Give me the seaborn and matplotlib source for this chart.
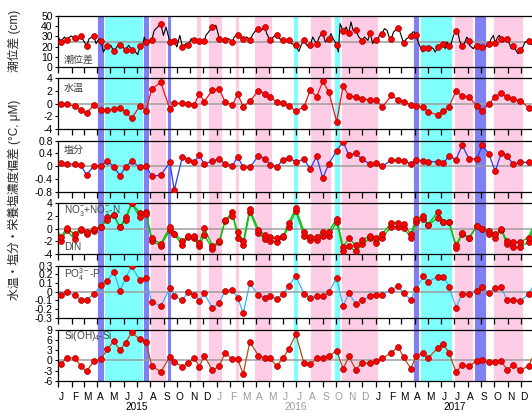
import numpy as np
import pandas as pd
import matplotlib
matplotlib.use("Agg")
import matplotlib.pyplot as plt
import matplotlib.dates as mdates
import matplotlib.transforms as mtransforms
from matplotlib.ticker import FuncFormatter
import seaborn as sns

sns.set_theme(style="white")
plt.rcParams["font.family"] = ["Liberation Sans", "Noto Sans CJK JP"]
plt.rcParams["mathtext.fontset"] = "custom"
plt.rcParams["mathtext.rm"] = "Liberation Sans"
plt.rcParams["mathtext.default"] = "regular"
plt.rcParams["axes.unicode_minus"] = False

# ---------------- data ----------------
BASE = "2015-01-01"
sample_day = [6, 19, 38, 52, 65, 82, 98, 113, 128, 142, 155, 169, 188, 202, 215, 236, 257, 267,
              286, 299, 313, 325, 336, 355, 371, 384, 401, 413, 426, 441, 461, 476, 488, 503, 518, 531,
              547, 566, 580, 595, 609, 623, 641, 656, 669, 685, 700, 718, 732, 746, 767, 783, 795, 812,
              824, 841, 851, 874, 887, 900, 916, 930, 946, 964, 976, 992, 1006, 1020, 1033, 1048, 1064, 1083]

tide_at_sample = [24.5, 26.8, 28.4, 30.4, 20.6, 30.4, 25.5, 20.3, 15.3, 22.0, 17.0, 17.0, 20.2, 24.5, 26.1,
                  42.5, 24.5, 25.2, 19.6, 21.2, 26.1, 25.5, 25.2, 39.2, 27.8, 26.8, 24.5, 31.7, 27.1, 26.1,
                  36.9, 39.2, 26.1, 31.7, 26.1, 26.1, 21.2, 26.8, 21.2, 22.2, 33.3, 27.8, 21.9, 35.3, 33.3,
                  35.9, 25.5, 33.7, 26.8, 32.7, 27.8, 38.2, 23.5, 30.1, 31.0, 19.0, 19.0, 19.6, 22.9, 20.3,
                  35.3, 20.6, 25.5, 20.3, 19.6, 22.2, 23.5, 27.8, 27.1, 20.3, 17.0, 25.2]

tide_extra_day = [-5, 2, 14, 29, 45, 60, 71, 87, 94, 104, 110, 121, 137, 162, 175, 183, 193, 198, 210, 221,
                  229, 242, 248, 262, 273, 280, 294, 306, 340, 363, 379, 392, 405, 419, 434, 449, 455, 467,
                  480, 495, 509, 524, 538, 554, 559, 572, 586, 601, 615, 628, 633, 645, 649, 663, 674, 679,
                  692, 705, 713, 724, 730, 736, 739, 751, 757, 762, 772, 776, 787, 792, 802, 816, 820, 830,
                  839, 849, 858, 864, 868, 879, 891, 895, 904, 910, 921, 925, 935, 941, 947, 956, 960, 970,
                  981, 987, 997, 1002, 1012, 1016, 1025, 1030, 1039, 1043, 1054, 1059, 1070, 1075, 1086, 1091]
tide_extra = [31.0, 27.8, 29.4, 30.4, 26.1, 24.5, 27.8, 22.9, 27.8, 14.7, 19.6, 21.2, 21.2, 21.2, 16.3, 12.1,
              17.9, 29.4, 26.1, 35.9, 39.2, 31.0, 39.2, 25.2, 19.6, 31.0, 22.9, 27.8, 31.0, 40.8, 25.2, 27.8,
              29.4, 29.4, 29.4, 32.7, 35.9, 35.9, 32.7, 29.4, 27.8, 26.1, 22.9, 15.3, 21.2, 21.2, 29.4, 29.4,
              24.5, 32.7, 27.8, 14.7, 42.5, 39.2, 44.1, 35.9, 29.4, 29.4, 26.1, 22.9, 27.8, 24.5, 31.0, 37.6,
              35.9, 29.4, 34.3, 35.9, 34.3, 27.8, 27.8, 34.3, 34.3, 22.9, 14.7, 17.9, 19.6, 17.9, 14.7, 21.2,
              17.9, 24.5, 21.2, 31.0, 32.7, 24.5, 22.9, 29.4, 21.2, 17.9, 21.2, 21.2, 17.9, 21.2, 27.8, 31.0,
              29.4, 31.0, 24.5, 27.8, 22.9, 17.9, 16.3, 13.0, 19.6, 24.5, 22.9, 21.9]

temp = [-0.1, -0.1, -0.37, -1.0, -1.5, -0.2, -1.0, -0.95, -0.9, -0.7, -1.26, -2.3, -0.37, -1.1, 2.26, 3.37,
        -0.9, 0.05, 0.05, -0.1, -0.2, 1.6, 0.3, 2.16, 2.26, 0.3, -0.26, 1.5, -0.47, 0.37, 2.05, 1.6, 1.1,
        0.26, 0.1, -0.37, -1.16, -0.5, 2.1, 1.1, 3.5, 1.84, -2.84, 2.8, 1.2, 1.1, 0.8, 0.55, 0.6, -0.58,
        1.3, 0.58, 0.26, -0.2, -0.37, -0.58, -1.26, -1.79, -1.21, -0.47, 2.0, 1.2, 1.1, -0.37, -1.1, -0.05,
        1.1, 1.63, 1.05, 0.68, 0.47, -0.63]

sal = [0.10, 0.08, 0.06, 0.04, -0.28, 0.02, 0.0, 0.16, -0.02, -0.30, -0.02, 0.16, -0.04, 0.01, -0.31, -0.28,
       0.12, -0.75, 0.30, 0.21, 0.14, 0.34, 0.06, 0.17, 0.22, 0.08, 0.02, 0.29, -0.04, -0.04, 0.33, 0.24,
       0.05, -0.02, 0.21, 0.26, 0.14, 0.22, -0.09, 0.31, -0.38, 0.08, 0.48, 0.77, 0.35, 0.40, 0.22, 0.06,
       0.10, 0.0, 0.19, 0.19, 0.17, 0.08, 0.19, 0.17, 0.14, 0.14, 0.10, 0.32, 0.21, 0.66, 0.23, 0.23, 0.66,
       0.38, -0.16, 0.40, 0.32, 0.06, 0.12, 0.12]

no3 = [-1.3, 0.05, -0.85, 0.0, -0.5, -0.1, 0.3, 1.3, 2.1, 0.2, 1.3, 4.0, 1.8, 2.3, -1.5, -2.4, 0.25, -0.8,
       -1.9, -1.2, -1.15, -2.2, 0.1, -2.7, -2.0, 1.3, 2.0, -0.5, -2.0, 3.1, -0.2, -1.0, -1.3, -1.5, -1.2,
       0.95, 3.2, -0.5, -1.3, -1.3, -0.5, -0.5, 1.6, -2.85, -1.55, -2.6, -1.8, -1.1, -1.5, -0.85, 0.95, 0.95,
       0.7, -0.85, 1.6, 2.0, 0.6, 2.6, 1.1, 1.1, -2.6, -0.7, -1.4, 0.4, -0.05, -0.3, -0.9, -0.1, -1.9, -2.1,
       -2.1, -1.4]
din = [-2.0, -0.2, -1.7, -0.2, -0.8, -0.3, 0.3, 1.9, 2.2, 0.2, 1.8, 4.0, 2.5, 2.7, -1.9, -2.7, -0.2, -0.9,
       -2.6, -1.3, -1.5, -2.8, -1.0, -3.2, -2.1, 1.2, 2.7, -1.4, -2.6, 2.7, -0.7, -1.7, -1.9, -2.1, -1.3,
       0.3, 2.8, -1.2, -1.8, -1.8, -1.2, -1.2, 1.1, -3.5, -2.75, -3.6, -2.5, -1.5, -2.3, -1.4, 0.3, 0.3,
       0.15, -1.4, 1.1, 1.5, 0.55, 1.7, 1.0, 1.0, -3.0, -0.8, -1.5, 0.35, -0.1, -0.8, -1.4, -0.15, -2.4, -2.9,
       -2.9, -2.1]

po4 = [-0.045, -0.01, -0.04, -0.095, -0.10, -0.03, 0.07, 0.125, 0.23, 0.01, 0.155, 0.29, 0.13, 0.155, -0.12,
       -0.17, 0.04, -0.05, -0.10, -0.005, -0.04, -0.105, -0.02, -0.19, -0.13, 0.01, 0.02, -0.07, -0.25, 0.095,
       -0.045, -0.07, -0.057, -0.084, -0.034, 0.068, 0.18, -0.027, -0.07, -0.057, -0.057, -0.008, 0.156,
       -0.167, -0.02, -0.14, -0.10, -0.057, -0.046, -0.038, 0.023, 0.06, -0.02, -0.095, 0.03, 0.18, 0.11,
       0.17, 0.17, 0.057, -0.186, -0.027, -0.027, 0.004, 0.05, -0.02, 0.04, 0.05, -0.095, -0.095, -0.11,
       -0.034]

si = [-1.1, 0.7, 0.7, -1.7, -3.2, -0.2, 0.3, 3.3, 5.7, 3.0, 5.2, 8.3, 6.2, 5.5, -1.6, -3.4, 1.1, -0.4, -1.9,
      -0.7, 0.6, -1.8, 1.4, -2.9, -1.7, 2.3, 0.3, 0.3, -4.0, 5.5, 1.4, 0.6, 0.6, -1.7, 0.8, 3.4, 7.7, -0.9,
      -1.2, 0.6, 0.6, 1.3, 2.8, -2.5, 1.2, -2.7, -0.65, -0.9, -0.3, 0.6, 2.3, 4.0, 0.9, -2.4, 1.4, 2.1, 0.6,
      3.7, 5.0, 2.1, -3.4, -1.4, -1.7, -0.1, 0.1, -0.6, -0.6, -0.2, -2.7, -1.4, -2.9, -1.6]

# observations just outside the plotted period (lines run out of the frame)
edge_day = [-12, 1100]
temp_edge = [-1.3, -0.2]
sal_edge = [0.1, 0.1]
no3_edge = [0.8, 1.5]
din_edge = [0.3, 1.2]
po4_edge = [0.1, 0.12]
si_edge = [1.5, 3.0]

band_start = ["2015-04-01", "2015-04-17", "2015-07-16", "2015-08-01", "2015-09-09", "2015-11-15",
              "2015-12-12", "2016-02-12", "2016-03-26", "2016-06-25", "2016-08-02", "2016-09-27",
              "2016-10-13", "2017-03-28", "2017-04-12", "2017-06-30", "2017-08-15", "2017-09-28"]
band_end = ["2015-04-17", "2015-07-16", "2015-07-29", "2015-09-07", "2015-09-18", "2015-11-25",
            "2016-01-13", "2016-02-22", "2016-05-07", "2016-07-06", "2016-09-21", "2016-10-11",
            "2017-01-07", "2017-04-11", "2017-06-25", "2017-08-14", "2017-09-11", "2017-12-07"]
band_kind = ["blue", "cyan", "blue", "pink", "blue", "pink", "pink", "pink", "pink", "cyan", "pink", "cyan",
             "pink", "blue", "cyan", "pink", "blue", "pink"]

month_letters = ["J", "F", "M", "A", "M", "J", "J", "A", "S", "O", "N", "D"]
years = [2015, 2016, 2017]

# ---------------- helpers ----------------
base = pd.Timestamp(BASE)
def to_dates(days):
    return base + pd.to_timedelta(np.asarray(days, dtype=float), unit="D")

band_colors = {"blue": "#8080F2", "cyan": "#80FFFF", "pink": "#FFCCE5"}
W_PX, H_PX = 532, 413
X0, X1 = pd.Timestamp("2015-01-01"), pd.Timestamp("2018-01-01")
LEFT, RIGHT = 58.3, 534.2

def rect(top, bottom):
    return [LEFT / W_PX, 1 - bottom / H_PX, (RIGHT - LEFT) / W_PX, (bottom - top) / H_PX]

fig = plt.figure(figsize=(W_PX / 100, H_PX / 100), dpi=100)

# background bands covering all panels
bg = fig.add_axes(rect(16, 380.7))
bg.set_xlim(X0, X1)
bg.set_ylim(0, 1)
for s, e, k in zip(band_start, band_end, band_kind):
    bg.axvspan(pd.Timestamp(s), pd.Timestamp(e), color=band_colors[k], ec="white", lw=0.6)
bg.axis("off")

panel_px = [(16, 67), (78.3, 129), (140.7, 191.7), (203.3, 254), (265.5, 317.5), (330, 380.7)]
axes = [fig.add_axes(rect(t, b)) for t, b in panel_px]

fmt = FuncFormatter(lambda v, p: "%g" % round(v, 3))

def style(ax, ylim, yticks, ref=0.0):
    ax.set_facecolor("none")
    ax.set_xlim(X0, X1)
    ax.set_ylim(*ylim)
    ax.set_yticks(yticks)
    ax.yaxis.set_major_formatter(fmt)
    ax.axhline(ref, color="#9E9E9E", lw=1.1, zorder=1)
    for side in ["top", "bottom", "left"]:
        ax.spines[side].set_visible(True)
        ax.spines[side].set_color("black")
        ax.spines[side].set_linewidth(0.9)
    ax.spines["right"].set_visible(False)
    ax.xaxis.set_major_locator(mdates.MonthLocator())
    ax.tick_params(axis="x", which="major", direction="out", length=4, width=0.9,
                   color="black", labelbottom=False, bottom=True)
    ax.tick_params(axis="y", direction="out", length=2.5, width=0.8, color="black",
                   labelsize=7.5, pad=1.5, left=True, labelcolor="black")
    ax.set_xlabel("")
    ax.set_ylabel("")
    ax.grid(False)

def series(ax, vals, edge, color, lw=0.9):
    d = to_dates(list(edge_day[:1]) + sample_day + list(edge_day[1:]))
    v = [edge[0]] + list(vals) + [edge[1]]
    sns.lineplot(x=d, y=v, ax=ax, color=color, lw=lw, estimator=None, sort=True, zorder=2)

def dots(ax, vals):
    sns.scatterplot(x=to_dates(sample_day), y=vals, ax=ax, color="#FF0000", edgecolor="#A00000",
                    s=18, linewidth=0.5, zorder=3, legend=False)

# panel 1: tidal range
ax = axes[0]
tl = pd.DataFrame({"d": to_dates(sample_day + tide_extra_day),
                   "v": tide_at_sample + tide_extra}).sort_values("d")
sns.lineplot(data=tl, x="d", y="v", ax=ax, color="black", lw=0.8, estimator=None, sort=True, zorder=2)
dots(ax, tide_at_sample)
style(ax, (0, 50), [0, 10, 20, 30, 40, 50], ref=25)

# panel 2: water temperature
ax = axes[1]
series(ax, temp, temp_edge, "#FF1010")
dots(ax, temp)
style(ax, (-4, 4), [-4, -2, 0, 2, 4])

# panel 3: salinity
ax = axes[2]
series(ax, sal, sal_edge, "#2B3BF0")
dots(ax, sal)
style(ax, (-0.8, 0.8), [-0.8, -0.4, 0, 0.4, 0.8])

# panel 4: NO3+NO2 and DIN
ax = axes[3]
series(ax, no3, no3_edge, "#10C010", lw=1.0)
series(ax, din, din_edge, "#10C010", lw=1.0)
dots(ax, din)
dots(ax, no3)
style(ax, (-4, 4), [-4, -2, 0, 2, 4])

# panel 5: PO4
ax = axes[4]
series(ax, po4, po4_edge, "#33B5F0")
dots(ax, po4)
style(ax, (-0.3, 0.3), [-0.3, -0.2, -0.1, 0, 0.1, 0.2, 0.3])

# panel 6: Si
ax = axes[5]
series(ax, si, si_edge, "#B84A12")
dots(ax, si)
style(ax, (-6, 9), [-6, -3, 0, 3, 6, 9])

# panel labels
lab_kw = dict(fontsize=7.2, color="#404040", ha="left", va="center")
axes[0].text(0.012, 0.14, "潮位差", transform=axes[0].transAxes, **lab_kw)
axes[1].text(0.012, 0.82, "水温", transform=axes[1].transAxes, **lab_kw)
axes[2].text(0.012, 0.82, "塩分", transform=axes[2].transAxes, **lab_kw)
axes[3].text(0.012, 0.86, r"NO$_3^{-}$+NO$_2^{-}$-N", transform=axes[3].transAxes, **lab_kw)
axes[3].text(0.012, 0.13, "DIN", transform=axes[3].transAxes, **lab_kw)
axes[4].text(0.012, 0.83, r"PO$_4^{3-}$-P", transform=axes[4].transAxes, **lab_kw)
axes[5].text(0.012, 0.88, r"Si(OH)$_4$-Si", transform=axes[5].transAxes, **lab_kw)

# month and year labels
bt = mtransforms.blended_transform_factory(axes[5].transData, fig.transFigure)
for y in years:
    col = "#9A9A9A" if y == 2016 else "black"
    for m, letter in enumerate(month_letters, start=1):
        axes[5].text(pd.Timestamp(y, m, 8), 1 - 397 / H_PX, letter, transform=bt,
                     ha="center", va="center", fontsize=7.3, color=col)
    axes[5].text(pd.Timestamp(y, 7, 1), 1 - 407.5 / H_PX, str(y), transform=bt,
                 ha="center", va="center", fontsize=7.2, color=col)

# y-axis titles
fig.text(14 / W_PX, 1 - 41 / H_PX, "潮位差 (cm)", rotation=90, ha="center", va="center", fontsize=8.5)
fig.text(14 / W_PX, 1 - 200 / H_PX, "水温・塩分・栄養塩濃度偏差 (°C, μM)", rotation=90,
         ha="center", va="center", fontsize=8.5)

fig.savefig("out.png", dpi=100)
